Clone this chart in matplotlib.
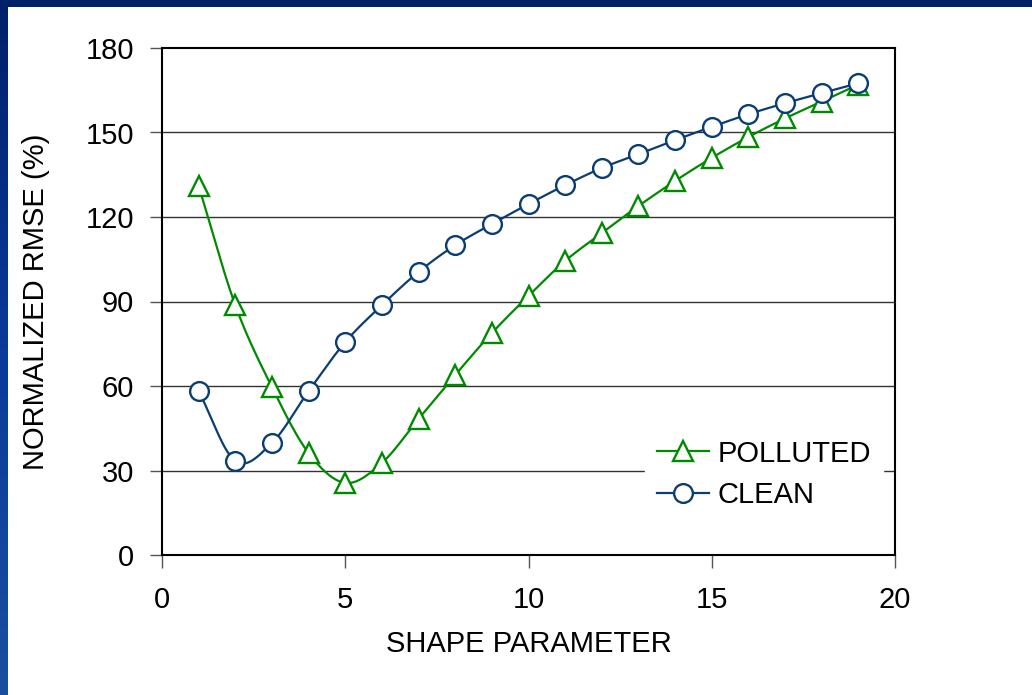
import numpy as np
import matplotlib
matplotlib.use("Agg")
import matplotlib.pyplot as plt
from matplotlib.lines import Line2D
from matplotlib.colors import LinearSegmentedColormap

plt.rcParams['font.family'] = ['Liberation Sans', 'DejaVu Sans']

shape = [1, 2, 3, 4, 5, 6, 7, 8, 9, 10, 11, 12, 13, 14, 15, 16, 17, 18, 19]
polluted = [131, 88.7, 59.6, 36.2, 25.6, 32.7, 48.3, 63.9, 78.8, 92.0, 104.4,
            114.3, 123.9, 132.8, 141.0, 148.4, 155.0, 161.0, 167.0]
clean = [58.2, 33.4, 39.8, 58.2, 75.6, 88.7, 100.5, 110.0, 117.5, 124.6, 131.3,
         137.4, 142.3, 147.3, 152.0, 156.5, 160.4, 164.0, 167.5]
yticks = [0, 30, 60, 90, 120, 150, 180]
xticks = [0, 5, 10, 15, 20]

GREEN = '#008A00'
BLUE = '#0B3D75'
FS = 21


def smooth(x, y, n=20):
    # Catmull-Rom style smoothing of the drawn path (like Excel smoothed lines)
    x = np.asarray(x, float)
    y = np.asarray(y, float)
    px = np.concatenate([[2 * x[0] - x[1]], x, [2 * x[-1] - x[-2]]])
    py = np.concatenate([[2 * y[0] - y[1]], y, [2 * y[-1] - y[-2]]])
    xs, ys = [], []
    t = np.linspace(0, 1, n, endpoint=False)
    for i in range(1, len(px) - 2):
        p0, p1, p2, p3 = [np.array([px[j], py[j]]) for j in (i - 1, i, i + 1, i + 2)]
        for tt in t:
            pt = 0.5 * ((2 * p1) + (-p0 + p2) * tt + (2 * p0 - 5 * p1 + 4 * p2 - p3) * tt ** 2
                        + (-p0 + 3 * p1 - 3 * p2 + p3) * tt ** 3)
            xs.append(pt[0])
            ys.append(pt[1])
    xs.append(x[-1])
    ys.append(y[-1])
    return np.array(xs), np.array(ys)


W, H = 1032, 695
fig = plt.figure(figsize=(W / 100, H / 100), dpi=100)
fig.patch.set_facecolor('white')

# border gradient (left and top)
grad = np.linspace(0, 1, 256).reshape(-1, 1)
cmap = LinearSegmentedColormap.from_list('b', ['#00206A', '#0A3A9A', '#1A4F9E'])
axl = fig.add_axes([0, 0, 8 / W, 1])
axl.imshow(grad, aspect='auto', cmap=cmap, extent=[0, 1, 0, 1], origin='upper')
axl.axis('off')
axt = fig.add_axes([0, 1 - 7 / H, 1, 7 / H])
axt.axis('off')
axt.add_patch(plt.Rectangle((0, 0), 1, 1, transform=axt.transAxes, color='#00216A'))

ax = fig.add_axes([162 / W, 1 - 555 / H, (895 - 162) / W, (555 - 48) / H])

for v in yticks[1:-1]:
    ax.axhline(v, color='#333333', lw=1.0, zorder=1)

sx, sy = smooth(shape, polluted)
ax.plot(sx, sy, color=GREEN, lw=1.6, zorder=2)
ax.plot(shape, polluted, ls='none', marker='^', ms=15, mfc='white', mec=GREEN, mew=1.7, zorder=3)
sx, sy = smooth(shape, clean)
ax.plot(sx, sy, color=BLUE, lw=1.6, zorder=4)
ax.plot(shape, clean, ls='none', marker='o', ms=13.5, mfc='white', mec=BLUE, mew=1.7, zorder=5)

ax.set_xlim(0, 20)
ax.set_ylim(0, 180)
ax.set_xticks(xticks)
ax.set_yticks(yticks)
ax.tick_params(direction='out', length=9, width=1, labelsize=FS, colors='#555555',
               labelcolor='black')
ax.tick_params(axis='y', pad=11)
ax.tick_params(axis='x', pad=13)
for s in ax.spines.values():
    s.set_color('black')
    s.set_linewidth(1.5)
ax.set_xlabel('SHAPE PARAMETER', fontsize=FS, labelpad=12)
ax.set_ylabel('NORMALIZED RMSE (%)', fontsize=FS, labelpad=26)

handles = [Line2D([], [], color=GREEN, lw=1.6, marker='^', ms=15, mfc='white', mec=GREEN, mew=1.7),
           Line2D([], [], color=BLUE, lw=1.6, marker='o', ms=13.5, mfc='white', mec=BLUE, mew=1.7)]
leg = ax.legend(handles, ['POLLUTED', 'CLEAN'], loc='upper left',
                bbox_to_anchor=(645 / W, 1 - 428 / H), bbox_transform=fig.transFigure,
                frameon=True, fontsize=FS, handlelength=1.8, handletextpad=0.3,
                labelspacing=0.45, borderpad=0.4, borderaxespad=0, fancybox=False)
leg.get_frame().set_edgecolor('white')
leg.get_frame().set_facecolor('white')
leg.get_frame().set_alpha(1)
leg.set_zorder(10)

fig.savefig('out.png', dpi=100)
